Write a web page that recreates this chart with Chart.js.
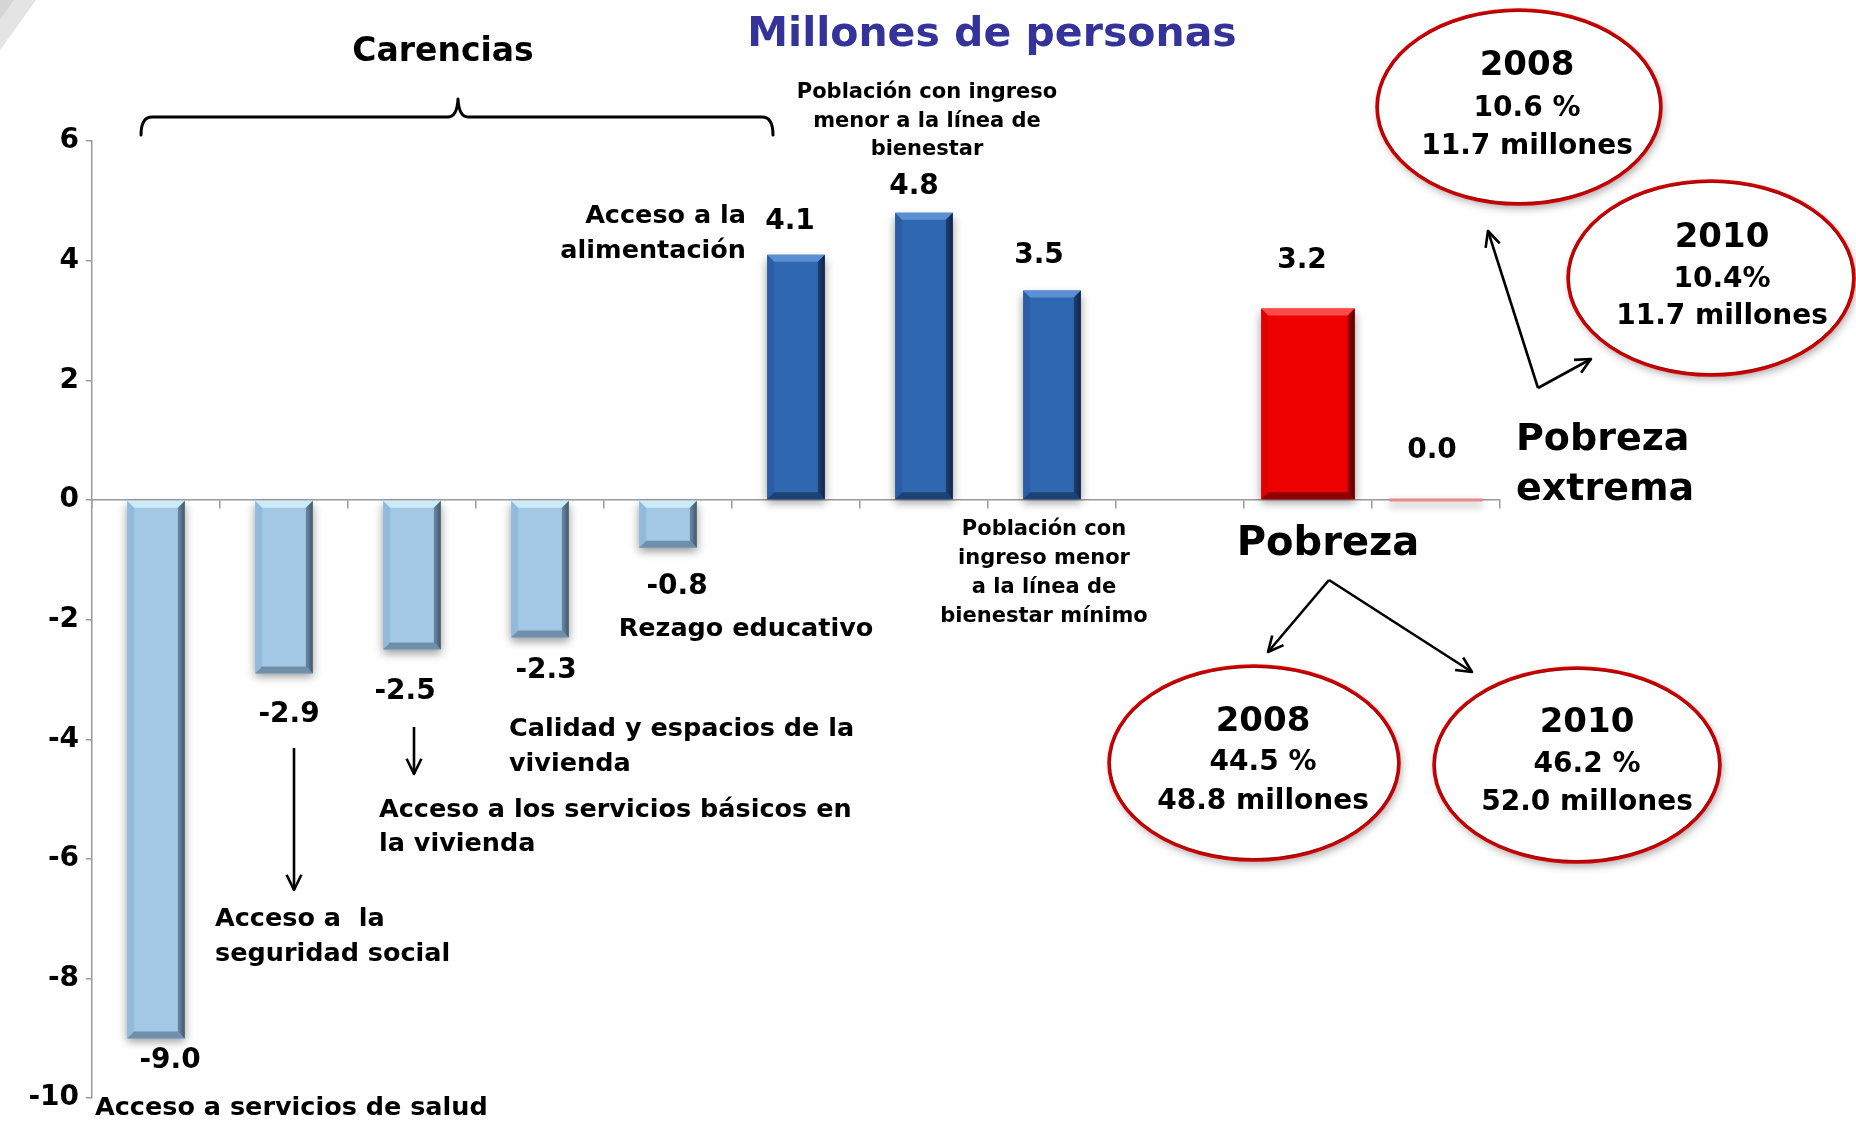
<!DOCTYPE html>
<html><head><meta charset="utf-8">
<script src="https://cdn.jsdelivr.net/npm/chart.js@4.4.0/dist/chart.umd.min.js"></script>
<style>html,body{margin:0;padding:0;background:#fff;}#wrap{width:1856px;height:1122px;position:relative;}</style>
</head><body><div id="wrap"><canvas id="c" width="1856" height="1122"></canvas></div>
<script>
// ---------- DATA ----------
const categories = [
  'Acceso a servicios de salud',
  'Acceso a la seguridad social',
  'Acceso a los servicios básicos en la vivienda',
  'Calidad y espacios de la vivienda',
  'Rezago educativo',
  'Acceso a la alimentación',
  'Población con ingreso menor a la línea de bienestar',
  'Población con ingreso menor a la línea de bienestar mínimo',
  '',
  'Pobreza',
  'Pobreza extrema'
];
const carenciasValues = [-9.0, -2.9, -2.5, -2.3, -0.8, 4.1, 4.8, 3.5, null, null, null];
const pobrezaValues   = [null, null, null, null, null, null, null, null, null, 3.2, 0.0];
const yTickValues = [-10, -8, -6, -4, -2, 0, 2, 4, 6];
const yTickLabels = ['-10', '-8', '-6', '-4', '-2', '0', '2', '4', '6'];

const titleText = 'Millones de personas';
const groupText = 'Carencias';
const ellipseTexts = [
  { year: '2008', pct: '10.6 %', mill: '11.7 millones' },
  { year: '2010', pct: '10.4%',  mill: '11.7 millones' },
  { year: '2008', pct: '44.5 %', mill: '48.8 millones' },
  { year: '2010', pct: '46.2 %', mill: '52.0 millones' }
];

// ---------- LAYOUT / STYLE (annotations) ----------
const FONT = '"DejaVu Sans", Verdana, sans-serif';
const captions = [
  { lines: ['Población con ingreso', 'menor a la línea de', 'bienestar'], x: 927, y: 93, lh: 28.5, size: 21, align: 'center' },
  { lines: ['Acceso a la', 'alimentación'], x: 746, y: 216, lh: 35, size: 25.5, align: 'right' },
  { lines: ['Rezago educativo'], x: 746, y: 629, lh: 35, size: 25.5, align: 'center' },
  { lines: ['Calidad y espacios de la', 'vivienda'], x: 509, y: 729, lh: 35, size: 25.5, align: 'left' },
  { lines: ['Acceso a los servicios básicos en', 'la vivienda'], x: 379, y: 810, lh: 34, size: 25.5, align: 'left' },
  { lines: ['Acceso a  la', 'seguridad social'], x: 215, y: 919, lh: 35, size: 25.5, align: 'left' },
  { lines: ['Acceso a servicios de salud'], x: 95, y: 1108, lh: 35, size: 25.5, align: 'left' },
  { lines: ['Población con', 'ingreso menor', 'a la línea de', 'bienestar mínimo'], x: 1044, y: 530, lh: 28.7, size: 21, align: 'center' },
  { lines: ['Pobreza'], x: 1328, y: 545, lh: 50, size: 40, align: 'center' },
  { lines: ['Pobreza', 'extrema'], x: 1516, y: 440, lh: 50, size: 38, align: 'left' }
];
const ellipses = [
  { cx: 1519, cy: 107, rx: 142, ry: 97, tx: 1527, ty: [66, 109, 147] },
  { cx: 1711, cy: 278, rx: 143, ry: 97, tx: 1722, ty: [238, 280, 317] },
  { cx: 1254, cy: 763, rx: 145, ry: 97, tx: 1263, ty: [722, 763, 802] },
  { cx: 1577, cy: 765, rx: 143, ry: 97, tx: 1587, ty: [723, 765, 803] }
];
// value label offsets relative to bar end (dx, dy)
const carLabelOff = [[14, 22], [5, 41], [-7, 42], [6, 33], [9, 39], [-6, -33], [-10, -26], [-13, -35]];
const pobLabelOff = { 9: [-6, -48], 10: [-4, -49] };

function poly(ctx, pts, fill) {
  ctx.beginPath(); ctx.moveTo(pts[0][0], pts[0][1]);
  for (let i = 1; i < pts.length; i++) ctx.lineTo(pts[i][0], pts[i][1]);
  ctx.closePath(); ctx.fillStyle = fill; ctx.fill();
}
function bevel(ctx, el, c) {
  const p = el.getProps(['x', 'y', 'base', 'width'], true);
  const l = p.x - p.width / 2, r = p.x + p.width / 2;
  const t = Math.min(p.y, p.base), b = Math.max(p.y, p.base);
  const h = b - t; if (h < 10) return;
  const s = Math.min(7, h / 3);
  poly(ctx, [[l, t], [l + s, t + s], [l + s, b - s], [l, b]], c.left);
  poly(ctx, [[l, t], [r, t], [r - s, t + s], [l + s, t + s]], c.top);
  poly(ctx, [[l, b], [r, b], [r - s, b - s], [l + s, b - s]], c.bottom);
  const g = ctx.createLinearGradient(r - s, 0, r, 0);
  g.addColorStop(0, c.right1); g.addColorStop(1, c.right2);
  poly(ctx, [[r, t], [r, b], [r - s, b - s], [r - s, t + s]], g);
}
const bevelLight = { top: '#CDEAF9', left: '#93BADA', bottom: '#6F8FAA', right1: '#6D8BA5', right2: '#3E5870' };
const bevelDark  = { top: '#5B8FD3', left: '#2A5EA3', bottom: '#1D4273', right1: '#1D4273', right2: '#0F2445' };
const bevelRed   = { top: '#FF4A4A', left: '#E00000', bottom: '#8E0000', right1: '#9A0000', right2: '#5A0000' };

function drawLines(ctx, lines, x, y, lh, size, align, color) {
  ctx.font = 'bold ' + size + 'px ' + FONT;
  ctx.fillStyle = color || '#000';
  ctx.textAlign = align; ctx.textBaseline = 'middle';
  lines.forEach((ln, i) => ctx.fillText(ln, x, y + i * lh));
}
function arrow(ctx, x1, y1, x2, y2, head) {
  ctx.beginPath(); ctx.moveTo(x1, y1); ctx.lineTo(x2, y2); ctx.stroke();
  if (!head) return;
  const a = Math.atan2(y2 - y1, x2 - x1), L = 17, w = 0.45;
  ctx.beginPath();
  ctx.moveTo(x2 - L * Math.cos(a - w), y2 - L * Math.sin(a - w));
  ctx.lineTo(x2, y2);
  ctx.lineTo(x2 - L * Math.cos(a + w), y2 - L * Math.sin(a + w));
  ctx.stroke();
}

const decorPlugin = {
  id: 'decor',
  beforeDraw(chart) {
    const ctx = chart.ctx;
    ctx.save();
    ctx.fillStyle = '#fff'; ctx.fillRect(0, 0, chart.width, chart.height);
    poly(ctx, [[0, 0], [36, 0], [0, 50]], '#E4E4E4');
    poly(ctx, [[0, 0], [14, 0], [0, 20]], '#D6D6D6');
    ctx.restore();
  },
  beforeDatasetsDraw(chart) {
    const ctx = chart.ctx;
    ctx.save();
    ctx.shadowColor = 'rgba(0,0,0,0.40)';
    ctx.shadowBlur = 9; ctx.shadowOffsetX = 0; ctx.shadowOffsetY = 4;
  },
  afterDatasetsDraw(chart) {
    const ctx = chart.ctx;
    ctx.restore();
    ctx.save();
    chart.getDatasetMeta(0).data.forEach((el, i) => {
      const v = carenciasValues[i]; if (v === null) return;
      bevel(ctx, el, v < 0 ? bevelLight : bevelDark);
    });
    chart.getDatasetMeta(1).data.forEach((el, i) => {
      const v = pobrezaValues[i]; if (v === null || v === 0) return;
      bevel(ctx, el, bevelRed);
    });
    ctx.restore();
  },
  afterDraw(chart) {
    const ctx = chart.ctx;
    ctx.save();
    // title & group label
    drawLines(ctx, [titleText], 992, 35, 0, 41, 'center', '#333399');
    drawLines(ctx, [groupText], 443, 52, 0, 33, 'center', '#000');
    // brace
    ctx.strokeStyle = '#000'; ctx.lineWidth = 3; ctx.lineCap = 'round'; ctx.lineJoin = 'round';
    ctx.beginPath();
    ctx.moveTo(141, 135);
    ctx.quadraticCurveTo(141, 117, 152, 117);
    ctx.lineTo(448, 117);
    ctx.quadraticCurveTo(457, 117, 458, 99);
    ctx.quadraticCurveTo(459, 117, 468, 117);
    ctx.lineTo(762, 117);
    ctx.quadraticCurveTo(773, 117, 773, 135);
    ctx.stroke();
    // captions
    captions.forEach(c => drawLines(ctx, c.lines, c.x, c.y, c.lh, c.size, c.align, '#000'));
    // arrows
    ctx.lineWidth = 2.6; ctx.lineCap = 'butt';
    arrow(ctx, 294, 748, 294, 890, true);
    arrow(ctx, 414, 727, 414, 774, true);
    arrow(ctx, 1329, 580, 1268, 652, true);
    arrow(ctx, 1329, 580, 1472, 672, true);
    arrow(ctx, 1538, 388, 1488, 231, true);
    arrow(ctx, 1538, 388, 1591, 359, true);
    // ellipses
    ellipses.forEach((e, i) => {
      ctx.save();
      ctx.shadowColor = 'rgba(0,0,0,0.35)'; ctx.shadowBlur = 8; ctx.shadowOffsetX = 2; ctx.shadowOffsetY = 4;
      ctx.beginPath(); ctx.ellipse(e.cx, e.cy, e.rx, e.ry, 0, 0, Math.PI * 2);
      ctx.fillStyle = '#fff'; ctx.fill();
      ctx.restore();
      ctx.beginPath(); ctx.ellipse(e.cx, e.cy, e.rx, e.ry, 0, 0, Math.PI * 2);
      ctx.strokeStyle = '#CC0000'; ctx.lineWidth = 3.5; ctx.stroke();
      ctx.beginPath(); ctx.ellipse(e.cx, e.cy, e.rx - 1.5, e.ry - 1.5, 0, 0, Math.PI * 2);
      ctx.strokeStyle = 'rgba(110,0,0,0.6)'; ctx.lineWidth = 1; ctx.stroke();
      const t = ellipseTexts[i];
      drawLines(ctx, [t.year], e.tx, e.ty[0], 0, 34, 'center', '#000');
      drawLines(ctx, [t.pct], e.tx, e.ty[1], 0, 28, 'center', '#000');
      drawLines(ctx, [t.mill], e.tx, e.ty[2], 0, 28, 'center', '#000');
    });
    // value labels
    chart.getDatasetMeta(0).data.forEach((el, i) => {
      const v = carenciasValues[i]; if (v === null) return;
      const o = carLabelOff[i];
      drawLines(ctx, [v.toFixed(1)], el.x + o[0], el.y + o[1], 0, 28, 'center', '#000');
    });
    chart.getDatasetMeta(1).data.forEach((el, i) => {
      const v = pobrezaValues[i]; if (v === null) return;
      const o = pobLabelOff[i];
      const yv = chart.scales.y.getPixelForValue(v);
      drawLines(ctx, [v.toFixed(1)], el.x + o[0], yv + o[1], 0, 28, 'center', '#000');
    });
    ctx.restore();
  }
};

new Chart(document.getElementById('c'), {
  type: 'bar',
  data: {
    labels: categories,
    datasets: [
      {
        data: carenciasValues,
        backgroundColor: ctx => (carenciasValues[ctx.dataIndex] < 0 ? '#A2C8E6' : '#2F67B1'),
        barPercentage: 0.45, categoryPercentage: 1.0, borderWidth: 0
      },
      {
        data: pobrezaValues,
        backgroundColor: ctx => (pobrezaValues[ctx.dataIndex] === 0 ? '#E88A8A' : '#EE0000'),
        barPercentage: 0.73, categoryPercentage: 1.0, borderWidth: 0, minBarLength: 3
      }
    ]
  },
  options: {
    responsive: false, animation: false, devicePixelRatio: 1,
    layout: { padding: { left: 0, top: 141, right: 356, bottom: 19 } },
    plugins: { legend: { display: false }, tooltip: { enabled: false }, title: { display: false } },
    scales: {
      x: {
        type: 'category', stacked: true, position: { y: 0 },
        ticks: { display: false },
        grid: { display: true, offset: true, drawOnChartArea: false, drawTicks: true, tickLength: 8, color: '#9A9A9A', lineWidth: 1.5 },
        border: { display: true, color: '#9A9A9A', width: 1.5 }
      },
      y: {
        min: -10, max: 6, stacked: false,
        afterFit: s => { s.width = 92; },
        ticks: {
          stepSize: 2, padding: 7, color: '#000',
          font: { family: 'DejaVu Sans', weight: 'bold', size: 28 },
          callback: v => { const i = yTickValues.indexOf(v); return i >= 0 ? yTickLabels[i] : ''; }
        },
        grid: { display: true, drawOnChartArea: false, drawTicks: true, tickLength: 6, color: '#9A9A9A', lineWidth: 1.5 },
        border: { display: true, color: '#9A9A9A', width: 1.5 }
      }
    }
  },
  plugins: [decorPlugin]
});
</script></body></html>
